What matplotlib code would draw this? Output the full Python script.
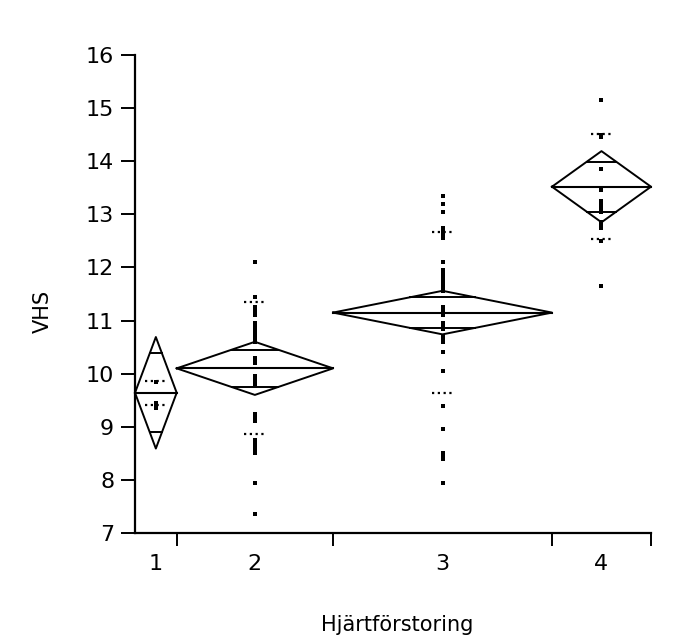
import numpy as np
import matplotlib.pyplot as plt

# grupper (Hjärtförstoring) och antal hundar per grupp -> bredd på x-axeln
groups = ['1', '2', '3', '4']
group_n = [8, 30, 42, 19]

# medelvärde, halva konfidensintervallet (diamant) och std.avvikelse per grupp
means = [9.64, 10.10, 11.15, 13.52]
ci_half = [1.05, 0.50, 0.41, 0.67]
sd = [0.23, 1.24, 1.52, 0.99]

# VHS-värden per grupp
vhs_1 = [9.85, 9.45, 9.40, 9.35]
vhs_2 = [12.1, 11.45, 11.25, 11.2, 11.15, 11.1, 10.95, 10.9, 10.85, 10.8,
         10.75, 10.7, 10.65, 10.6, 10.3, 10.25, 10.2, 9.95, 9.9, 9.85,
         9.8, 9.25, 9.2, 9.15, 9.1, 8.75, 8.7, 8.65, 8.6, 8.55, 8.5,
         7.95, 7.35]
vhs_3 = [13.35, 13.2, 13.05, 12.75, 12.7, 12.65, 12.6, 12.55, 12.1, 11.95,
         11.9, 11.85, 11.8, 11.75, 11.7, 11.65, 11.6, 11.55, 11.25, 11.2,
         11.15, 11.1, 10.95, 10.9, 10.85, 10.7, 10.65, 10.6, 10.4, 10.05,
         9.4, 8.95, 8.5, 8.45, 8.4, 7.95]
vhs_4 = [15.15, 14.5, 14.45, 13.85, 13.5, 13.45, 13.25, 13.2, 13.15, 13.1,
         13.05, 12.85, 12.8, 12.75, 12.5, 11.65]
vhs = [vhs_1, vhs_2, vhs_3, vhs_4]

yticks = list(range(7, 17))

fig = plt.figure(figsize=(6.77, 6.44), dpi=100)
ax = fig.add_axes([135 / 677, 111 / 644, 516 / 677, 478 / 644])

edges = np.concatenate([[0], np.cumsum(group_n)])
centers = (edges[:-1] + edges[1:]) / 2
sd_w = 2.1  # halvbredd på de prickade std-linjerna

for i in range(len(groups)):
    x0, x1, xc = edges[i], edges[i + 1], centers[i]
    m, h, s = means[i], ci_half[i], sd[i]
    # punkter
    ax.plot([xc] * len(vhs[i]), vhs[i], 's', color='black', ms=2.9,
            mew=0, clip_on=False)
    # diamant
    ax.plot([x0, xc, x1, xc, x0], [m, m + h, m, m - h, m],
            color='black', lw=1.4, clip_on=False)
    ax.plot([x0, x1], [m, m], color='black', lw=1.5, clip_on=False)
    # överlappsmarkeringar
    k = 1 / np.sqrt(2)
    dx = (x1 - x0) / 2 * (1 - k)
    for yy in (m + h * k, m - h * k):
        ax.plot([xc - dx, xc + dx], [yy, yy], color='black', lw=1.4)
    # std-linjer
    for yy in (m + s, m - s):
        ax.plot([xc - sd_w, xc + sd_w], [yy, yy], color='black', lw=1.6,
                linestyle=(0, (1, 1.6)))

ax.set_xlim(edges[0], edges[-1])
ax.set_ylim(7, 16)

ax.spines['top'].set_visible(False)
ax.spines['right'].set_visible(False)
ax.spines['left'].set_linewidth(1.6)
ax.spines['bottom'].set_linewidth(1.6)

ax.set_yticks(yticks)
ax.set_yticklabels([str(t) for t in yticks])
ax.tick_params(axis='y', length=10, width=1.4, pad=5, labelsize=16)

ax.set_xticks(edges[1:])
ax.set_xticklabels([])
ax.set_xticks(centers, minor=True)
ax.set_xticklabels(groups, minor=True)
ax.tick_params(axis='x', which='major', length=9, width=1.4)
ax.tick_params(axis='x', which='minor', length=0, pad=15, labelsize=16)

ax.set_ylabel('VHS', fontsize=15)
ax.yaxis.set_label_coords(-0.16, 0.464)
ax.set_xlabel('Hjärtförstoring', fontsize=15)
ax.xaxis.set_label_coords(0.508, -0.172)

fig.savefig('out.png', dpi=100)
